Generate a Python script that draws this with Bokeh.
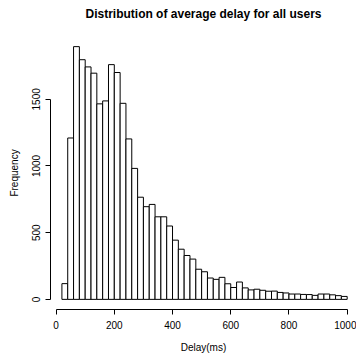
from bokeh.plotting import figure
from bokeh.models import LinearAxis, FixedTicker, Range1d, ColumnDataSource, Title
from bokeh.embed import file_html
from bokeh.resources import INLINE

# Histogram bins (left edges, ms) and counts
bin_left = [20, 40, 60, 80, 100, 120, 140, 160, 180, 200,
            220, 240, 260, 280, 300, 320, 340, 360, 380, 400,
            420, 440, 460, 480, 500, 520, 540, 560, 580, 600,
            620, 640, 660, 680, 700, 720, 740, 760, 780, 800,
            820, 840, 860, 880, 900, 920, 940, 960, 980]
counts = [118, 1210, 1895, 1797, 1743, 1696, 1466, 1488, 1760, 1701,
          1470, 1203, 982, 766, 695, 712, 619, 619, 550, 444,
          376, 329, 302, 226, 207, 160, 150, 165, 117, 89,
          130, 86, 71, 76, 68, 61, 62, 52, 48, 40,
          40, 37, 36, 30, 40, 40, 34, 28, 22]
bin_width = 20
x_ticks = [0, 200, 400, 600, 800, 1000]
y_ticks = [0, 500, 1000, 1500]
title_text = "Distribution of average delay for all users"

src = ColumnDataSource(dict(
    left=bin_left,
    right=[b + bin_width for b in bin_left],
    top=counts,
    bottom=[0] * len(counts),
))

p = figure(width=356, height=355, output_backend="svg", toolbar_location=None,
           x_range=Range1d(-19.2, 1032), y_range=Range1d(-76, 1971),
           x_axis_type=None, y_axis_type=None,
           min_border_left=50, min_border_right=0, min_border_top=36, min_border_bottom=41)
p.outline_line_color = None
p.grid.visible = False
p.background_fill_color = "white"
p.border_fill_color = "white"

# spacer panel between the frame and the title (added first -> closest to frame)
spacer = Title(text=" ", text_font_size="1px", standoff=11)
p.add_layout(spacer, "above")

main_title = Title(text=title_text, align="center", standoff=4,
                   text_font="Liberation Sans", text_font_size="12px",
                   text_font_style="bold", text_color="black")
p.add_layout(main_title, "above")

p.quad(left="left", right="right", top="top", bottom="bottom", source=src,
       fill_color="white", line_color="black", line_width=1)

def style_axis(ax):
    ax.bounds = (ax.ticker.ticks[0], ax.ticker.ticks[-1])
    ax.axis_line_color = "black"
    ax.axis_line_width = 1
    ax.major_tick_line_color = "black"
    ax.major_tick_out = 5
    ax.major_tick_in = 0
    ax.minor_tick_line_color = None
    ax.major_label_text_font = "Liberation Sans"
    ax.major_label_text_font_size = "10px"
    ax.major_label_text_color = "black"
    ax.axis_label_text_font = "Liberation Sans"
    ax.axis_label_text_font_size = "10px"
    ax.axis_label_text_font_style = "normal"
    ax.axis_label_text_color = "black"

xa = LinearAxis(ticker=FixedTicker(ticks=x_ticks), axis_label="Delay(ms)")
style_axis(xa)
xa.major_label_standoff = 6
xa.axis_label_standoff = 10
p.add_layout(xa, "below")

ya = LinearAxis(ticker=FixedTicker(ticks=y_ticks), axis_label="Frequency")
style_axis(ya)
ya.major_label_orientation = "vertical"
ya.major_label_standoff = 5
ya.axis_label_standoff = 10
p.add_layout(ya, "left")

open("out.html", "w").write(file_html(p, INLINE))
